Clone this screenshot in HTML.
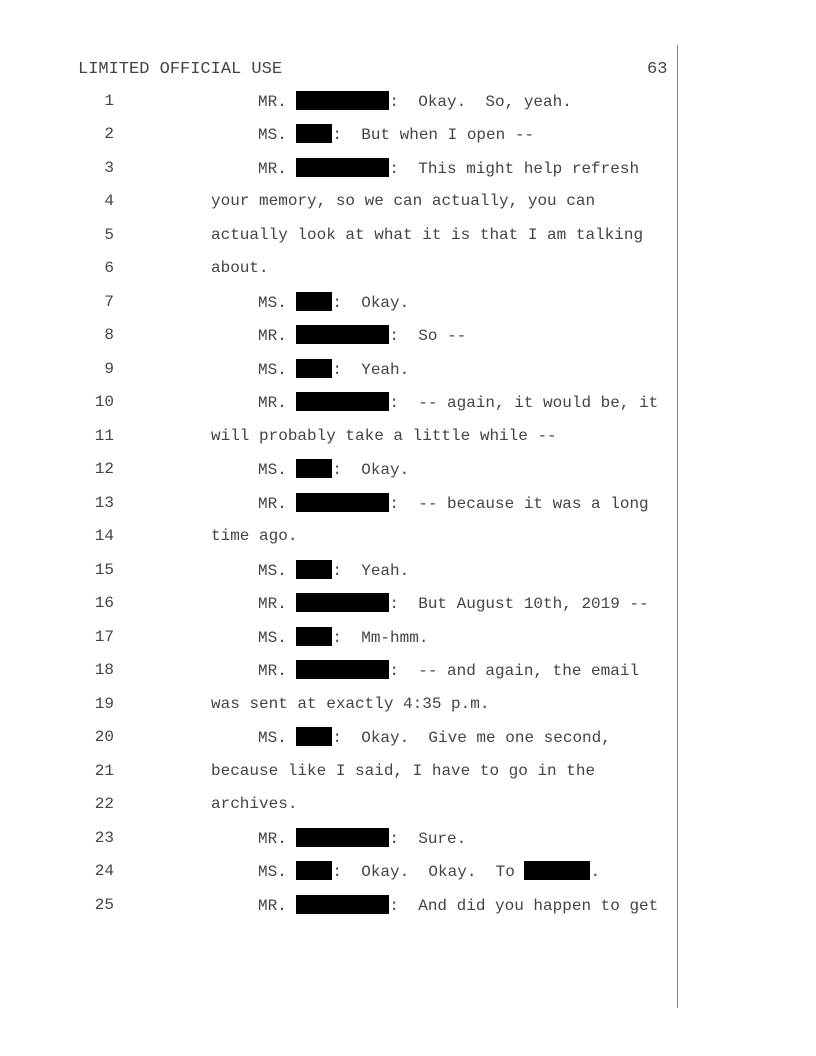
<!DOCTYPE html>
<html><head><meta charset="utf-8"><style>
body{margin:0;background:#fff;}
#p{position:relative;width:816px;height:1056px;overflow:hidden;font-family:"Liberation Mono",monospace;font-size:16px;color:#444;}
.l{position:absolute;white-space:pre;line-height:20px;}
.n{position:absolute;width:40px;text-align:right;left:74px;line-height:20px;}
.b{display:inline-block;background:#000;height:19px;vertical-align:-4px;}
.r{width:93px}.s{width:36px}
</style></head><body><div id="p">
<div style="position:absolute;left:677px;top:45px;width:1px;height:963px;background:#888"></div>
<div class="l" style="left:78px;top:60px;font-size:17px">LIMITED OFFICIAL USE</div>
<div class="l" style="left:647px;top:60px;font-size:17px">63</div>

<div class="n" style="top:91px">1</div><div class="l" style="left:258px;top:91px">MR. <span class="b r"></span>:  Okay.  So, yeah.</div>
<div class="n" style="top:124px">2</div><div class="l" style="left:258px;top:124px">MS. <span class="b s"></span>:  But when I open --</div>
<div class="n" style="top:158px">3</div><div class="l" style="left:258px;top:158px">MR. <span class="b r"></span>:  This might help refresh</div>
<div class="n" style="top:191px">4</div><div class="l" style="left:211px;top:191px">your memory, so we can actually, you can</div>
<div class="n" style="top:225px">5</div><div class="l" style="left:211px;top:225px">actually look at what it is that I am talking</div>
<div class="n" style="top:258px">6</div><div class="l" style="left:211px;top:258px">about.</div>
<div class="n" style="top:292px">7</div><div class="l" style="left:258px;top:292px">MS. <span class="b s"></span>:  Okay.</div>
<div class="n" style="top:325px">8</div><div class="l" style="left:258px;top:325px">MR. <span class="b r"></span>:  So --</div>
<div class="n" style="top:359px">9</div><div class="l" style="left:258px;top:359px">MS. <span class="b s"></span>:  Yeah.</div>
<div class="n" style="top:392px">10</div><div class="l" style="left:258px;top:392px">MR. <span class="b r"></span>:  -- again, it would be, it</div>
<div class="n" style="top:426px">11</div><div class="l" style="left:211px;top:426px">will probably take a little while --</div>
<div class="n" style="top:459px">12</div><div class="l" style="left:258px;top:459px">MS. <span class="b s"></span>:  Okay.</div>
<div class="n" style="top:493px">13</div><div class="l" style="left:258px;top:493px">MR. <span class="b r"></span>:  -- because it was a long</div>
<div class="n" style="top:526px">14</div><div class="l" style="left:211px;top:526px">time ago.</div>
<div class="n" style="top:560px">15</div><div class="l" style="left:258px;top:560px">MS. <span class="b s"></span>:  Yeah.</div>
<div class="n" style="top:593px">16</div><div class="l" style="left:258px;top:593px">MR. <span class="b r"></span>:  But August 10th, 2019 --</div>
<div class="n" style="top:627px">17</div><div class="l" style="left:258px;top:627px">MS. <span class="b s"></span>:  Mm-hmm.</div>
<div class="n" style="top:660px">18</div><div class="l" style="left:258px;top:660px">MR. <span class="b r"></span>:  -- and again, the email</div>
<div class="n" style="top:694px">19</div><div class="l" style="left:211px;top:694px">was sent at exactly 4:35 p.m.</div>
<div class="n" style="top:727px">20</div><div class="l" style="left:258px;top:727px">MS. <span class="b s"></span>:  Okay.  Give me one second,</div>
<div class="n" style="top:761px">21</div><div class="l" style="left:211px;top:761px">because like I said, I have to go in the</div>
<div class="n" style="top:794px">22</div><div class="l" style="left:211px;top:794px">archives.</div>
<div class="n" style="top:828px">23</div><div class="l" style="left:258px;top:828px">MR. <span class="b r"></span>:  Sure.</div>
<div class="n" style="top:861px">24</div><div class="l" style="left:258px;top:861px">MS. <span class="b s"></span>:  Okay.  Okay.  To <span class="b" style="width:66px"></span>.</div>
<div class="n" style="top:895px">25</div><div class="l" style="left:258px;top:895px">MR. <span class="b r"></span>:  And did you happen to get</div>
</div></body></html>
